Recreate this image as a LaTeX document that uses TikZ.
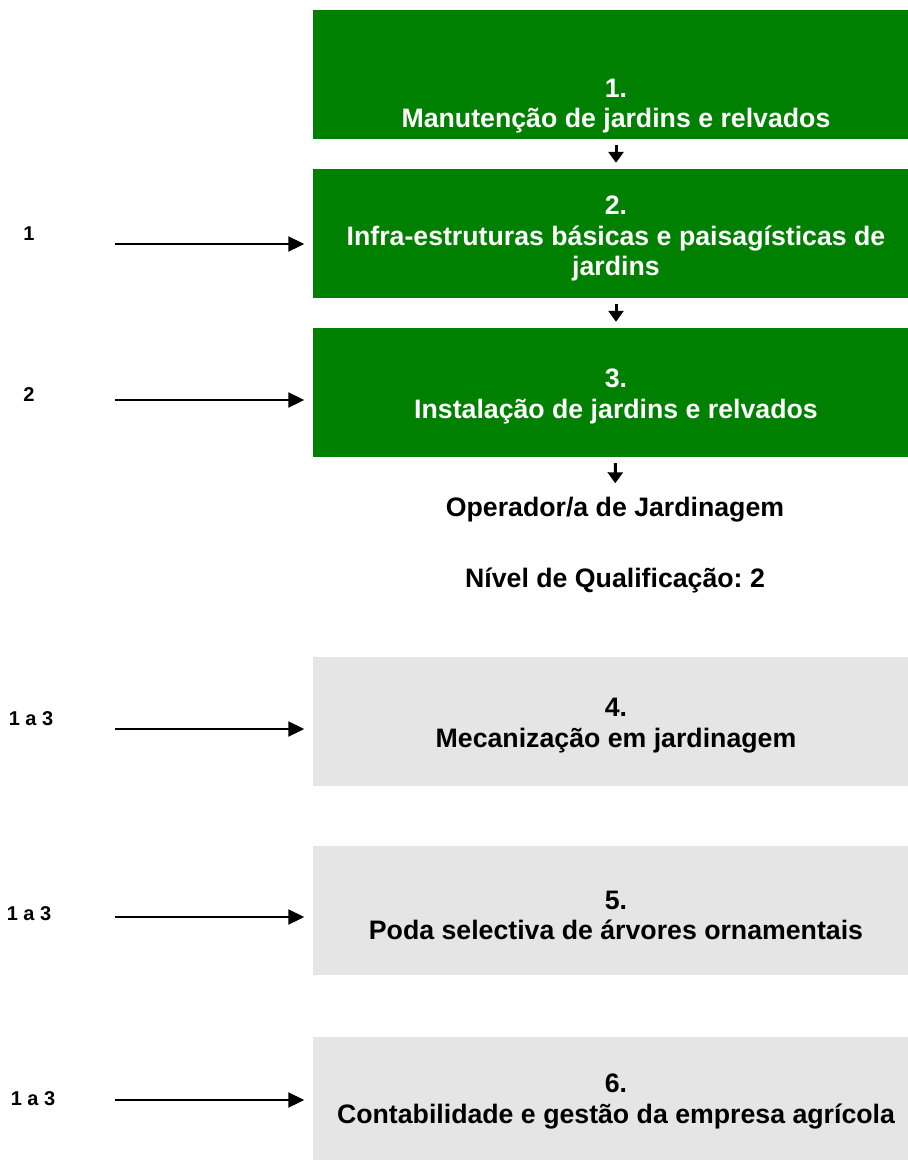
\documentclass[tikz,border=0pt]{standalone}
\usepackage{fontspec}
\setmainfont{Liberation Sans}
\usetikzlibrary{arrows.meta,calc}
\definecolor{stepgreen}{RGB}{0,128,0}
\definecolor{stepgrey}{RGB}{229,229,229}
\tikzset{
	greenbox/.style={fill=stepgreen, minimum width=607, minimum height=129, inner sep=0},
	greybox/.style={fill=stepgrey, minimum width=607, minimum height=129, inner sep=0},
	greenbox text/.style={text=white, align=center, inner sep=0, font=\bfseries\fontsize{26.7}{30.5}\selectfont},
	greybox text/.style={text=black, align=center, inner sep=0, font=\bfseries\fontsize{26.7}{30.5}\selectfont},
	prereq/.style={font=\bfseries\fontsize{20}{24}\selectfont, inner sep=0},
	plain text/.style={font=\bfseries\fontsize{26.7}{30.5}\selectfont, inner sep=0},
	downarrow/.style={line width=3, -{Triangle[length=11,width=15]}},
	sidearrow/.style={line width=2, -{Triangle[length=16,width=15]}}
}
\newcommand{\drawstep}[5]{
	\node[#2] (#1) at (616,#3) {};
	\node[#2 text, yshift=#4] (#1t) at (#1.center) {#5};
}
\frenchspacing
\begin{document}
\begin{tikzpicture}[x=1pt,y=-1pt]
	\clip (0,0) rectangle (908,1160);
	% steps of the course
	\drawstep{b1}{greenbox}{74}{-32}{1.\\Manutenção de jardins e relvados}
	\drawstep{b2}{greenbox}{233.5}{-5}{2.\\Infra-estruturas básicas e paisagísticas de\\jardins}
	\drawstep{b3}{greenbox}{392.5}{-4}{3.\\Instalação de jardins e relvados}
	\drawstep{b4}{greybox}{721.5}{-4}{4.\\Mecanização em jardinagem}
	\drawstep{b5}{greybox}{910.5}{-5}{5.\\Poda selectiva de árvores ornamentais}
	\drawstep{b6}{greybox}{1101.5}{0}{6.\\Contabilidade e gestão da empresa agrícola}
	\node[plain text] (op) at (615,510) {Operador/a de Jardinagem};
	\node[plain text] (lvl) at (615,580) {Nível de Qualificação: 2};
	\draw[downarrow, shorten <=6, shorten >=6] (b1) -- (b2);
	\draw[downarrow, shorten <=6, shorten >=6] (b2) -- (b3);
	\draw[downarrow, shorten <=6, shorten >=14] (b3) -- (op);
	% prerequisites
	\foreach \name/\lab/\lx/\ly/\ay/\tgt in {p2/1/29/234/244/b2, p3/2/29/395/400/b3, p4/1 a 3/31/719/729/b4, p5/1 a 3/29/914/917/b5, p6/1 a 3/33/1099/1100/b6} {
		\node[prereq] (\name) at (\lx,\ly) {\lab};
		\coordinate (\name a) at (115,\ay);
		\draw[sidearrow, shorten >=8] (\name a) -- (\name a -| \tgt.west);
	}
\end{tikzpicture}
\end{document}
